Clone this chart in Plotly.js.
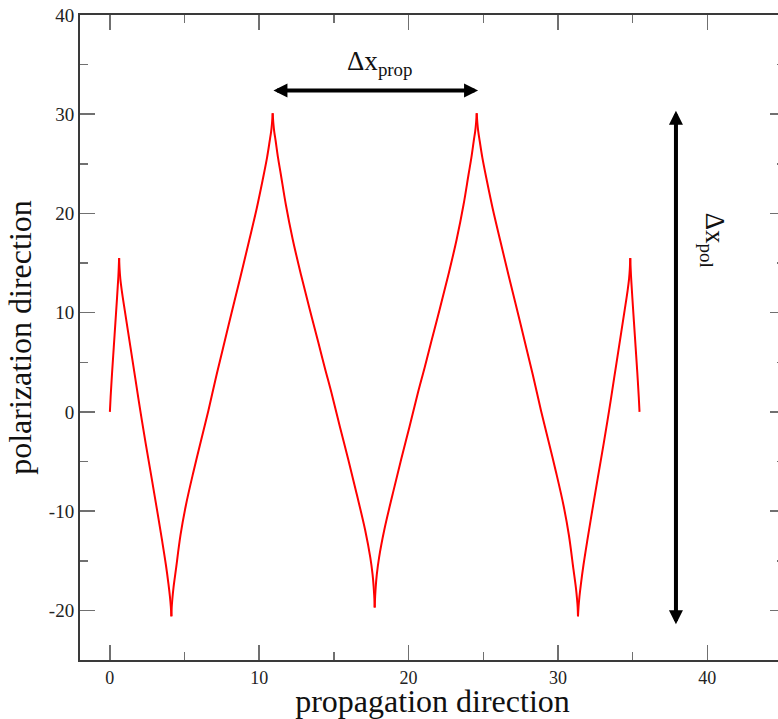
<!DOCTYPE html>
<html>
<head>
<meta charset="utf-8">
<script src="https://cdn.plot.ly/plotly-3.0.1.min.js"></script>
<style>
html,body{margin:0;padding:0;overflow:hidden;background:#fff;}
#chart{width:790px;height:719px;}
</style>
</head>
<body>
<div id="chart"></div>
<script>
// Trajectory, cusp to cusp (x: propagation, y: polarization)
var seg1X = [0, 0.05, 0.15, 0.26, 0.37, 0.48, 0.57, 0.62];
var seg1Y = [0, 1.5, 4.0, 6.5, 9.0, 11.5, 13.7, 15.5];

var seg2X = [0.62, 0.65, 0.70, 0.80, 1.00, 1.37, 1.70, 2.04, 2.40, 2.80, 3.16, 3.50, 3.75, 3.92, 4.02, 4.08, 4.12];
var seg2Y = [15.5, 14.4, 13.4, 12.2, 10.2, 6.6, 3.4, 0.1, -3.2, -6.7, -9.9, -13.0, -15.4, -17.3, -18.6, -19.6, -20.6];

var seg3X = [4.12, 4.14, 4.18, 4.26, 4.42, 4.73, 5.09, 5.60, 6.05, 6.59, 7.06, 7.57, 8.15, 8.74, 9.33, 9.83, 10.22, 10.52, 10.70, 10.80, 10.85, 10.90];
var seg3Y = [-20.6, -19.7, -18.9, -17.7, -15.9, -12.4, -9.4, -6.0, -3.2, 0.1, 3.2, 6.4, 10.0, 13.6, 17.3, 20.5, 23.3, 25.6, 27.3, 28.3, 29.0, 30.1];

var seg4X = [10.90, 10.95, 11.00, 11.10, 11.26, 11.45, 11.78, 12.24, 12.80, 13.37, 13.94, 14.38, 14.84, 15.40, 15.96, 16.53, 17.09, 17.44, 17.59, 17.66, 17.70, 17.72, 17.73];
var seg4Y = [30.1, 29.0, 28.3, 27.3, 25.6, 23.9, 20.9, 17.4, 13.8, 10.4, 7.1, 4.5, 1.9, -1.5, -4.8, -8.3, -11.9, -14.7, -16.4, -17.6, -18.6, -19.2, -19.7];

var seg5X = [17.73, 17.74, 17.76, 17.80, 17.87, 18.02, 18.37, 18.93, 19.50, 20.06, 20.62, 21.08, 21.52, 22.09, 22.66, 23.22, 23.68, 24.01, 24.20, 24.36, 24.46, 24.51, 24.56];
var seg5Y = [-19.7, -19.2, -18.6, -17.6, -16.4, -14.7, -11.9, -8.3, -4.8, -1.5, 1.9, 4.5, 7.1, 10.4, 13.8, 17.4, 20.9, 23.9, 25.6, 27.3, 28.3, 29.0, 30.1];

var seg6X = [24.56, 24.61, 24.66, 24.76, 24.94, 25.24, 25.63, 26.13, 26.72, 27.31, 27.89, 28.40, 28.87, 29.41, 29.86, 30.37, 30.73, 31.04, 31.20, 31.28, 31.32, 31.34];
var seg6Y = [30.1, 29.0, 28.3, 27.3, 25.6, 23.3, 20.5, 17.3, 13.6, 10.0, 6.4, 3.2, 0.1, -3.2, -6.0, -9.4, -12.4, -15.9, -17.7, -18.9, -19.7, -20.6];

var seg7X = [31.34, 31.38, 31.44, 31.54, 31.71, 31.96, 32.30, 32.66, 33.06, 33.42, 33.76, 34.09, 34.46, 34.66, 34.76, 34.81, 34.84];
var seg7Y = [-20.6, -19.6, -18.6, -17.3, -15.4, -13.0, -9.9, -6.7, -3.2, 0.1, 3.4, 6.6, 10.2, 12.2, 13.4, 14.4, 15.5];

var seg8X = [34.84, 34.89, 34.98, 35.09, 35.20, 35.31, 35.41, 35.46];
var seg8Y = [15.5, 13.7, 11.5, 9.0, 6.5, 4.0, 1.5, 0];

var xTickVals = [0, 10, 20, 30, 40];
var xTickText = ['0', '10', '20', '30', '40'];
var yTickVals = [-20, -10, 0, 10, 20, 30, 40];
var yTickText = ['-20', '-10', '0', '10', '20', '30', '40'];

// Arrow end points (data units)
var propArrowX = [10.85, 24.65];
var propArrowY = [32.4, 32.4];
var polArrowX = [37.9, 37.9];
var polArrowY = [30.5, -21.4];

var segments = [
  [seg1X, seg1Y], [seg2X, seg2Y], [seg3X, seg3Y], [seg4X, seg4Y],
  [seg5X, seg5Y], [seg6X, seg6Y], [seg7X, seg7Y], [seg8X, seg8Y]
];

var FONT = '"Liberation Serif", "Times New Roman", Times, serif';
var AXC = '#3a3a3a';
var TKC = '#707070';

var traces = segments.map(function (s) {
  return {
    x: s[0], y: s[1], type: 'scatter', mode: 'lines',
    line: {color: 'rgb(255,0,0)', width: 2, shape: 'spline', smoothing: 1},
    hoverinfo: 'skip'
  };
});

function arrow(x0, y0, x1, y1) {
  return {
    x: x1, y: y1, ax: x0, ay: y0,
    xref: 'x', yref: 'y', axref: 'x', ayref: 'y',
    text: '', showarrow: true,
    arrowhead: 2, startarrowhead: 2, arrowside: 'end+start',
    arrowsize: 0.7, startarrowsize: 0.7, arrowwidth: 4,
    arrowcolor: '#000', font: {size: 1}
  };
}

var layout = {
  width: 790, height: 719,
  margin: {l: 80, r: 5, t: 15, b: 59},
  paper_bgcolor: '#fff', plot_bgcolor: '#fff',
  showlegend: false,
  font: {family: FONT, color: '#222'},
  xaxis: {
    range: [-2, 45.2], showgrid: false, zeroline: false,
    showline: true, linecolor: AXC, linewidth: 2, mirror: 'ticks',
    ticks: 'inside', ticklen: 15, tickwidth: 1.5, tickcolor: TKC,
    tickvals: xTickVals, ticktext: xTickText,
    minor: {dtick: 5, tick0: 0, ticks: 'inside', ticklen: 8, tickwidth: 1.5, tickcolor: TKC},
    tickfont: {family: FONT, size: 18, color: '#222'},
    title: {text: 'propagation direction', font: {family: FONT, size: 32, color: '#111'}, standoff: 2}
  },
  yaxis: {
    range: [-25, 40], showgrid: false, zeroline: false,
    showline: true, linecolor: AXC, linewidth: 2, mirror: 'ticks',
    ticks: 'inside', ticklen: 15, tickwidth: 1.5, tickcolor: TKC,
    tickvals: yTickVals, ticktext: yTickText,
    minor: {dtick: 5, tick0: 0, ticks: 'inside', ticklen: 8, tickwidth: 1.5, tickcolor: TKC},
    tickfont: {family: FONT, size: 19, color: '#222'},
    title: {text: 'polarization direction', font: {family: FONT, size: 32, color: '#111'}, standoff: 8}
  },
  annotations: [
    arrow(propArrowX[0], propArrowY[0], propArrowX[1], propArrowY[1]),
    arrow(polArrowX[0], polArrowY[0], polArrowX[1], polArrowY[1]),
    {
      x: 18.1, y: 35.2, xref: 'x', yref: 'y', showarrow: false,
      text: 'Δx<sub>prop</sub>', font: {family: FONT, size: 27, color: '#111'},
      xanchor: 'center', yanchor: 'middle'
    },
    {
      x: 40.35, y: 17.3, xref: 'x', yref: 'y', showarrow: false, textangle: 90,
      text: 'Δx<sub>pol</sub>', font: {family: FONT, size: 27, color: '#111'},
      xanchor: 'center', yanchor: 'middle'
    }
  ]
};

Plotly.newPlot('chart', traces, layout, {displayModeBar: false, staticPlot: true});
</script>
</body>
</html>
